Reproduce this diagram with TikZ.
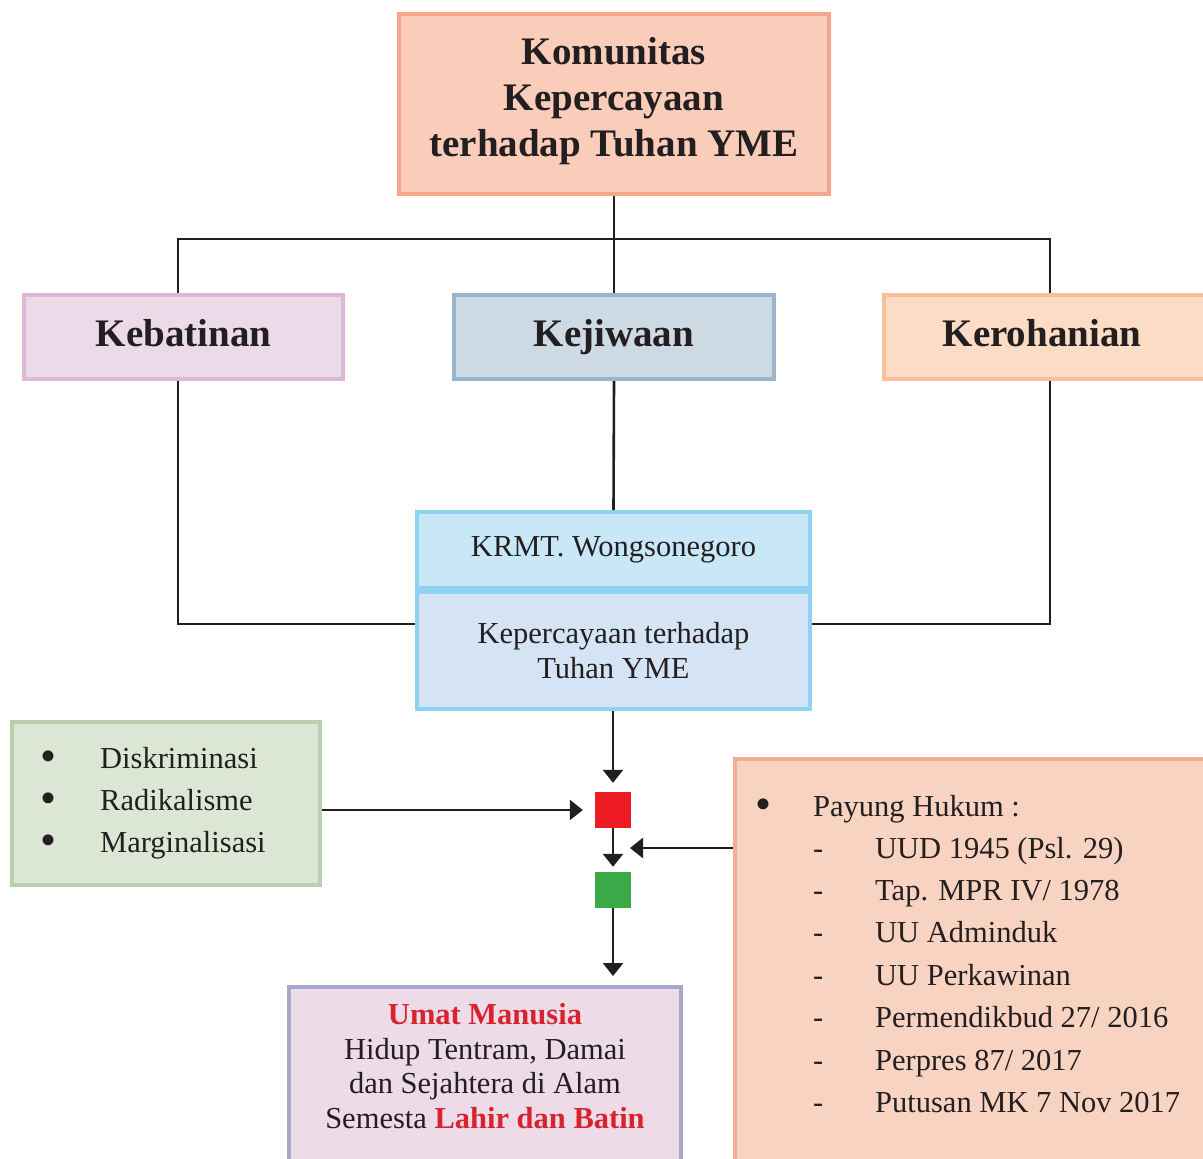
\documentclass[tikz,border=0pt]{standalone}
\usepackage{fontspec}
\setmainfont{Liberation Serif}
\usetikzlibrary{arrows.meta}
\definecolor{txt}{HTML}{231F20}
\definecolor{topfill}{HTML}{F9CDBA}\definecolor{topline}{HTML}{F3A88E}
\definecolor{kebfill}{HTML}{EDDAE8}\definecolor{kebline}{HTML}{DEB8D6}
\definecolor{kejfill}{HTML}{CDD9E3}\definecolor{kejline}{HTML}{99B4CB}
\definecolor{kerfill}{HTML}{FDDCC6}\definecolor{kerline}{HTML}{F9BF98}
\definecolor{krmtfill}{HTML}{C8E8F8}\definecolor{krmtline}{HTML}{8ED3F0}
\definecolor{kepfill}{HTML}{D4E4F4}
\definecolor{grfill}{HTML}{DCE6D4}\definecolor{grline}{HTML}{B9D0AE}
\definecolor{lawfill}{HTML}{F9D3C2}\definecolor{lawline}{HTML}{F4AC93}
\definecolor{umfill}{HTML}{EEDBE8}\definecolor{umline}{HTML}{A8A5CF}
\definecolor{redsq}{HTML}{ED1C24}\definecolor{greensq}{HTML}{3AAA48}
\definecolor{redtxt}{HTML}{D8232F}
\newcommand{\bigbullet}{\raisebox{-0.12em}{\scalebox{1.5}{\textbullet}}}
\tikzset{
  box/.style={draw, line width=4pt, inner sep=0pt, align=center, text=txt},
  titlefont/.style={font=\fontsize{39}{46}\selectfont\bfseries},
  onerow/.style={text height=28pt, text depth=9pt},
  bodyfont/.style={font=\fontsize{30.5}{34.5}\selectfont},
  conn/.style={line width=2.6pt, draw=txt},
  arr/.style={conn, -{Triangle[width=20pt,length=13pt]}},
  sq/.style={minimum size=36pt, inner sep=0pt},
  item/.style={bodyfont, anchor=base west, inner sep=0pt, text=txt},
}
\begin{document}
\begin{tikzpicture}[x=1pt,y=-1pt]
\useasboundingbox (0,0) rectangle (1203,1159);
\clip (0,0) rectangle (1203,1159);
% boxes
\node[box, titlefont, draw=topline, fill=topfill, minimum width=430pt, minimum height=180pt] (top) at (614,104)
  {Komunitas\\Kepercayaan\\terhadap Tuhan YME\rule[-14pt]{0pt}{1pt}};
\node[box, titlefont, onerow, draw=kebline, fill=kebfill, minimum width=319pt, minimum height=84pt] (keb) at (183.5,337) {Kebatinan};
\node[box, titlefont, onerow, draw=kejline, fill=kejfill, minimum width=320pt, minimum height=84pt] (kej) at (614,337) {Kejiwaan};
\node[box, titlefont, onerow, draw=kerline, fill=kerfill, minimum width=324pt, minimum height=84pt] (ker) at (1046,337) {\hspace*{-8pt}Kerohanian};
\node[box, bodyfont, draw=krmtline, fill=kepfill, minimum width=393pt, minimum height=117pt] (kep) at (613.5,650.5)
  {Kepercayaan terhadap\\Tuhan YME};
\node[box, bodyfont, draw=krmtline, fill=krmtfill, minimum width=393pt, minimum height=76pt] (krmt) at (613.5,550) {KRMT. Wongsonegoro};
\node[box, draw=grline, fill=grfill, minimum width=308pt, minimum height=163pt] (dis) at (166,803.5) {};
\node[box, draw=lawline, fill=lawfill, minimum width=478pt, minimum height=409pt] (law) at (974,963.5) {};
\node[box, draw=umline, fill=umfill, minimum width=392pt, minimum height=181pt] (umat) at (485,1077.5) {};
\node[sq, fill=redsq] (red) at (613,810) {};
\node[sq, fill=greensq] (grn) at (613,890) {};
% texts in list boxes
\foreach \t [count=\i] in {Diskriminasi,Radikalisme,Marginalisasi}{
  \node[item] (dl\i) at (40,768+42*\i-42) {\makebox[60pt][l]{\bigbullet}\t};
}
\node[item] (lh) at (755,816) {\makebox[58pt][l]{\bigbullet}Payung Hukum :};
\foreach \t [count=\i] in {UUD 1945 (Psl. 29),Tap. MPR IV/ 1978,UU Adminduk,UU Perkawinan,Permendikbud 27/ 2016,Perpres 87/ 2017,Putusan MK 7 Nov 2017}{
  \node[item] (l\i) at (813,858+42.4*\i-42.4) {\makebox[62pt][l]{-}\t};
}
\node[bodyfont, align=center, text=txt, inner sep=0pt] (umtxt) at (485,1066)
  {\textcolor{redtxt}{\bfseries Umat Manusia}\\Hidup Tentram, Damai\\dan Sejahtera di Alam\\Semesta \textcolor{redtxt}{\bfseries Lahir dan Batin}};
% connectors
\coordinate (hl) at (178,239);
\coordinate (hr) at (1050,239);
\draw[conn] (top.south) -- (kej.north);
\draw[conn] (keb.north -| hl) -- (hl) -- (hr) -- (ker.north -| hr);
\draw[conn] (kej.south) -- (krmt.north);
\draw[conn] (keb.south -| hl) |- (kep.west |- 0,624);
\draw[conn] (ker.south -| hr) |- (kep.east |- 0,624);
\draw[arr, shorten >=9pt] (kep.south -| red) -- (red.north);
\draw[arr, shorten >=12pt] (dis.east |- red) -- (red.west);
\draw[arr, shorten >=5pt] (red.south) -- (grn.north);
\draw[arr, shorten >=0pt] (law.west |- 0,848) -- (630,848);
\draw[arr, shorten >=9pt] (grn.south) -- (umat.north -| grn);
\end{tikzpicture}
\end{document}
